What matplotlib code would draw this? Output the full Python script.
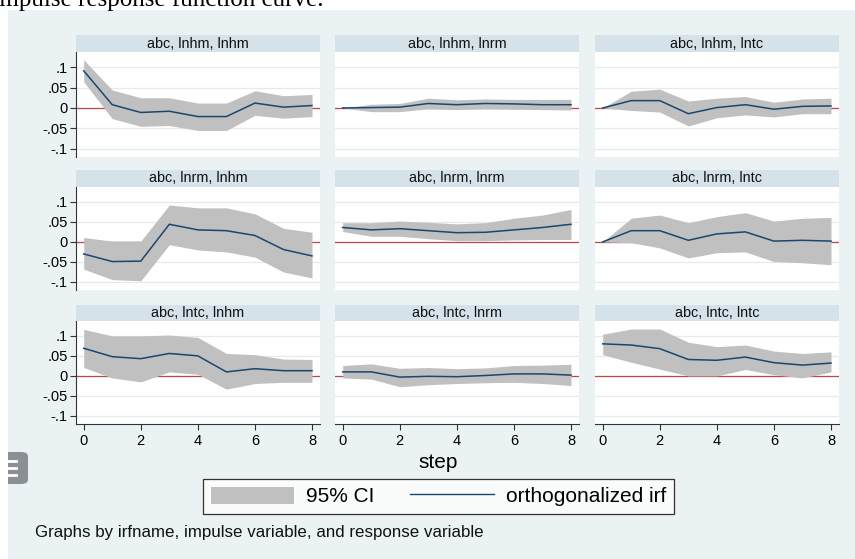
import numpy as np
import matplotlib
matplotlib.use("Agg")
import matplotlib.pyplot as plt
from matplotlib.patches import Rectangle, Patch, FancyBboxPatch
from matplotlib.lines import Line2D

plt.rcParams["font.family"] = ["Liberation Sans", "DejaVu Sans"]

W, H = 855, 559

steps = np.arange(9)
ytick_vals = [-0.1, -0.05, 0, 0.05, 0.1]
ytick_labels = ["-.1", "-.05", "0", ".05", ".1"]
xtick_vals = [0, 2, 4, 6, 8]

titles = [
    "abc, lnhm, lnhm", "abc, lnhm, lnrm", "abc, lnhm, lntc",
    "abc, lnrm, lnhm", "abc, lnrm, lnrm", "abc, lnrm, lntc",
    "abc, lntc, lnhm", "abc, lntc, lnrm", "abc, lntc, lntc",
]

irf = [
    [0.091, 0.008, -0.011, -0.008, -0.021, -0.021, 0.012, 0.002, 0.006],
    [0.0, 0.001, 0.002, 0.011, 0.008, 0.011, 0.010, 0.008, 0.008],
    [0.0, 0.018, 0.018, -0.014, 0.001, 0.008, -0.003, 0.004, 0.005],
    [-0.030, -0.049, -0.048, 0.044, 0.030, 0.028, 0.016, -0.019, -0.035],
    [0.036, 0.030, 0.033, 0.028, 0.023, 0.024, 0.030, 0.036, 0.044],
    [0.0, 0.028, 0.028, 0.004, 0.020, 0.025, 0.002, 0.004, 0.002],
    [0.069, 0.048, 0.043, 0.056, 0.050, 0.010, 0.018, 0.013, 0.013],
    [0.010, 0.010, -0.003, -0.001, -0.002, 0.001, 0.005, 0.005, 0.002],
    [0.080, 0.077, 0.068, 0.041, 0.039, 0.047, 0.033, 0.027, 0.032],
]
upper = [
    [0.118, 0.044, 0.025, 0.025, 0.012, 0.012, 0.042, 0.030, 0.033],
    [0.0, 0.009, 0.011, 0.024, 0.020, 0.022, 0.021, 0.021, 0.021],
    [0.0, 0.041, 0.046, 0.017, 0.024, 0.028, 0.014, 0.022, 0.024],
    [0.011, 0.002, 0.002, 0.092, 0.085, 0.085, 0.070, 0.034, 0.024],
    [0.048, 0.048, 0.052, 0.049, 0.045, 0.048, 0.059, 0.067, 0.081],
    [0.0, 0.059, 0.067, 0.048, 0.063, 0.073, 0.052, 0.059, 0.061],
    [0.116, 0.100, 0.100, 0.102, 0.096, 0.056, 0.053, 0.042, 0.041],
    [0.026, 0.030, 0.019, 0.021, 0.018, 0.020, 0.026, 0.027, 0.029],
    [0.104, 0.117, 0.117, 0.084, 0.073, 0.077, 0.062, 0.056, 0.060],
]
lower = [
    [0.064, -0.026, -0.045, -0.043, -0.055, -0.055, -0.018, -0.025, -0.021],
    [0.0, -0.009, -0.009, -0.002, -0.004, -0.002, -0.003, -0.004, -0.005],
    [0.0, -0.006, -0.010, -0.044, -0.024, -0.017, -0.022, -0.014, -0.014],
    [-0.068, -0.094, -0.097, -0.007, -0.020, -0.025, -0.038, -0.075, -0.090],
    [0.026, 0.014, 0.014, 0.008, 0.003, 0.003, 0.005, 0.006, 0.006],
    [0.0, -0.002, -0.015, -0.040, -0.027, -0.025, -0.049, -0.052, -0.057],
    [0.021, -0.005, -0.015, 0.010, 0.004, -0.033, -0.019, -0.016, -0.016],
    [-0.005, -0.008, -0.027, -0.022, -0.019, -0.017, -0.016, -0.019, -0.024],
    [0.053, 0.034, 0.017, 0.000, 0.000, 0.016, 0.003, -0.005, 0.010],
]

BG = "#EAF2F3"
STRIP = "#D6E2E9"
BAND = "#C0C0C0"
NAVY = "#1A476F"
ZERO = "#C0464E"

# panel geometry in pixels
cols = [(76, 320), (335, 579), (595, 839)]
rows = [(35, 52, 157), (170, 187, 290), (305, 321, 424)]


def fbox(x0, y0, x1, y1):
    return [x0 / W, 1 - y1 / H, (x1 - x0) / W, (y1 - y0) / H]


fig = plt.figure(figsize=(W / 100, H / 100), dpi=100)
fig.patch.set_facecolor("white")

# Stata graph region
fig.patches.append(Rectangle((8 / W, 0), 1 - 8 / W, 1 - 10 / H,
                             transform=fig.transFigure, facecolor=BG,
                             edgecolor="none", zorder=-2))

# cut-off document heading above the screenshot
fig.text(-9 / W, 1 - 6 / H, "Impulse response function curve.",
         family="Liberation Serif", fontsize=18, va="baseline", ha="left")

for i in range(9):
    r, c = divmod(i, 3)
    x0, x1 = cols[c]
    st, pt, pb = rows[r]

    # subtitle strip
    fig.patches.append(Rectangle((x0 / W, 1 - pt / H), (x1 - x0) / W, (pt - st) / H,
                                 transform=fig.transFigure, facecolor=STRIP,
                                 edgecolor="none", zorder=-1))
    fig.text((x0 + x1) / 2 / W, 1 - (st + pt) / 2 / H, titles[i],
             ha="center", va="center", fontsize=10.4, color="#111111")

    ax = fig.add_axes(fbox(x0, pt, x1, pb))
    ax.set_zorder(1)
    ax.set_facecolor("white")
    ax.set_xlim(-0.27, 8.28)
    ax.set_ylim(-0.12, 0.137)
    for yv in ytick_vals:
        ax.axhline(yv, color="#E2ECEE", lw=0.9, zorder=1)
    ax.axhline(0, color=ZERO, lw=0.9, zorder=2)
    ax.fill_between(steps, lower[i], upper[i], color=BAND, lw=0, zorder=3)
    ax.plot(steps, irf[i], color=NAVY, lw=1.1, zorder=4)

    for s in ax.spines.values():
        s.set_visible(False)
    ax.set_yticks(ytick_vals)
    ax.set_xticks(xtick_vals)
    if c == 0:
        ax.spines["left"].set_visible(True)
        ax.spines["left"].set_color("#333333")
        ax.spines["left"].set_linewidth(0.8)
        ax.set_yticklabels(ytick_labels)
        ax.tick_params(axis="y", direction="out", length=4, width=0.8,
                       color="#333333", labelsize=10.5, pad=2)
    else:
        ax.tick_params(axis="y", left=False, labelleft=False)
    if r == 2:
        ax.spines["bottom"].set_visible(True)
        ax.spines["bottom"].set_color("#333333")
        ax.spines["bottom"].set_linewidth(0.8)
        ax.tick_params(axis="x", direction="out", length=4, width=0.8,
                       color="#333333", labelsize=10.5, pad=3)
    else:
        ax.tick_params(axis="x", bottom=False, labelbottom=False)

fig.text(438 / W, 1 - 463 / H, "step", ha="center", va="center", fontsize=15)

handles = [Patch(facecolor=BAND, edgecolor="none"),
           Line2D([0], [0], color=NAVY, lw=1.0)]
leg = fig.legend(handles, ["95% CI", "orthogonalized irf"], ncol=2,
                 loc="center", bbox_to_anchor=(438.5 / W, 1 - 496.5 / H),
                 fontsize=15, frameon=True, fancybox=False,
                 handlelength=4.0, handleheight=0.9, handletextpad=0.6,
                 columnspacing=1.7, borderpad=0.35)
leg.get_frame().set_edgecolor("black")
leg.get_frame().set_linewidth(0.9)
leg.get_frame().set_facecolor("white")

fig.text(35 / W, 1 - 532 / H, "Graphs by irfname, impulse variable, and response variable",
         ha="left", va="center", fontsize=12.2, color="#111111")

# menu button overlay at left edge
fig.patches.append(FancyBboxPatch((2 / W, 1 - 484 / H), 26 / W, 32 / H,
                                  boxstyle="round,pad=0,rounding_size=0.008",
                                  transform=fig.transFigure, facecolor="#8C8F93",
                                  edgecolor="none", zorder=5))
fig.patches.append(Rectangle((0, 1 - 486 / H), 8 / W, 36 / H,
                             transform=fig.transFigure, facecolor="white",
                             edgecolor="none", zorder=6))
for yy in (461, 468, 475):
    fig.add_artist(Line2D([8 / W, 16 / W], [1 - yy / H, 1 - yy / H],
                          transform=fig.transFigure, color="white", lw=2, zorder=7))

fig.savefig("out.png", dpi=100)
